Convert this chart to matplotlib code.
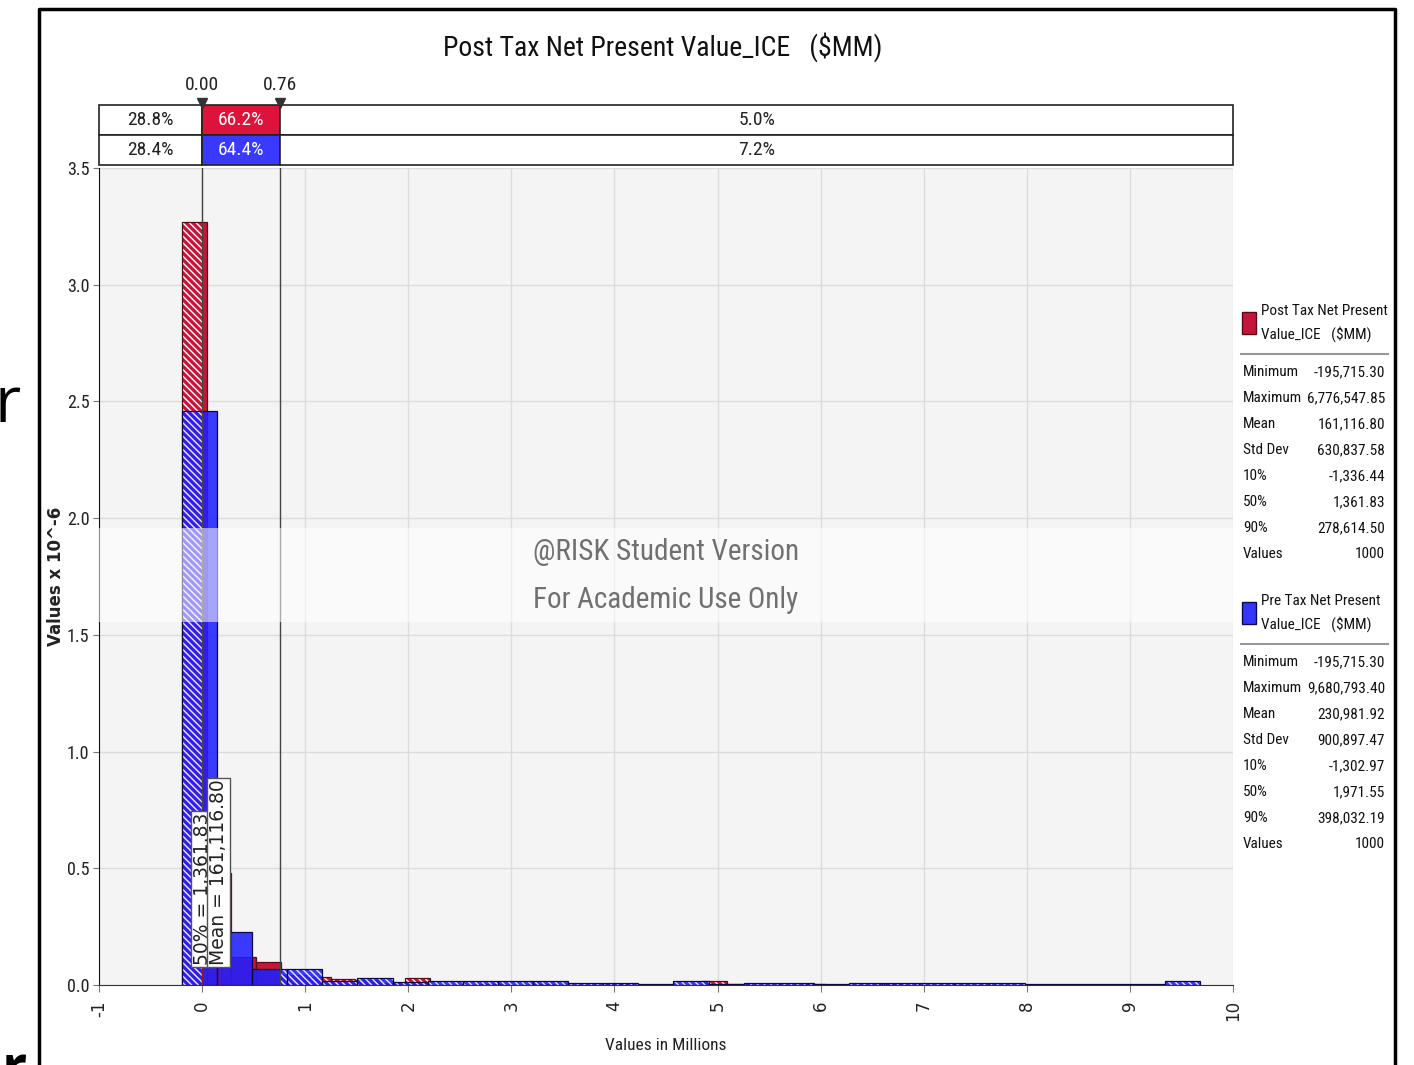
import numpy as np
import matplotlib.pyplot as plt
from matplotlib.patches import Rectangle
from matplotlib.lines import Line2D

W, H = 1414, 1065

# values in millions, densities in units of 1e-6
post_min, post_max = -0.1957153, 6.77654785
pre_min, pre_max = -0.1957153, 9.6807934
post_heights = [3.27, 0.48, 0.12, 0.10, 0.042, 0.033, 0.026, 0.02, 0.008, 0.029,
                0.0, 0.0, 0.004, 0.0, 0.004, 0.0, 0.0, 0.004, 0.0, 0.0,
                0.0, 0.015, 0.004, 0.0, 0.0, 0.004, 0.0, 0.0, 0.004]
pre_heights = [2.46, 0.227, 0.069, 0.069, 0.017, 0.029, 0.013, 0.016, 0.016, 0.016,
               0.016, 0.01, 0.01, 0.005, 0.018, 0.006, 0.01, 0.01, 0.005, 0.01,
               0.01, 0.01, 0.01, 0.01, 0.004, 0.004, 0.004, 0.004, 0.015]
lower_delim, upper_delim = 0.00, 0.76
post_split = [28.8, 66.2, 5.0]
pre_split = [28.4, 64.4, 7.2]
post_mean = 0.1611168
post_p50 = 0.00136183
stat_names = ['Minimum', 'Maximum', 'Mean', 'Std Dev', '10%', '50%', '90%', 'Values']
post_stats = ['-195,715.30', '6,776,547.85', '161,116.80', '630,837.58',
              '-1,336.44', '1,361.83', '278,614.50', '1000']
pre_stats = ['-195,715.30', '9,680,793.40', '230,981.92', '900,897.47',
             '-1,302.97', '1,971.55', '398,032.19', '1000']
x_ticks = list(range(-1, 11))
y_ticks = [0.0, 0.5, 1.0, 1.5, 2.0, 2.5, 3.0, 3.5]

RED = '#c4163a'
BLUE = '#2020ff'
NARROW = ['Roboto Condensed', 'Liberation Sans Narrow', 'Liberation Sans']

plt.rcParams['hatch.linewidth'] = 1.0

fig = plt.figure(figsize=(W / 100, H / 100), dpi=100)


def fx(x):
    return x / W


def fy(y):
    return 1 - y / H


def draw_hist(ax, lo_val, hi_val, heights, color, edge, alpha, z):
    edges = np.linspace(lo_val, hi_val, len(heights) + 1)
    for lo, hi, h in zip(edges[:-1], edges[1:], heights):
        if h <= 0:
            continue
        parts = [(lo, min(hi, lower_delim), True),
                 (max(lo, lower_delim), min(hi, upper_delim), False),
                 (max(lo, upper_delim), hi, True)]
        for a, b, hatched in parts:
            if b <= a:
                continue
            if hatched:
                ax.bar(a, h, width=b - a, align='edge', color=color, edgecolor='white',
                       linewidth=0, hatch='\\' * 5, alpha=alpha, zorder=z)
            else:
                ax.bar(a, h, width=b - a, align='edge', color=color, linewidth=0,
                       alpha=alpha, zorder=z)
        ax.bar(lo, h, width=hi - lo, align='edge', fill=False, edgecolor=edge,
               linewidth=0.9, zorder=z + 0.1)


# main plot
ax = fig.add_axes([fx(99), fy(985), fx(1233 - 99), (985 - 168) / H])
ax.set_facecolor('#f4f4f4')
ax.set_xlim(-1, 10)
ax.set_ylim(0, 3.5)
ax.set_xticks(x_ticks)
ax.set_yticks(y_ticks)
ax.set_xticklabels([str(t) for t in x_ticks], rotation=90, fontsize=12, color='#222')
ax.set_yticklabels([f'{t:.1f}' for t in y_ticks], fontsize=13, family=NARROW, color='#222')
ax.tick_params(axis='x', length=5, color='#777', pad=6)
ax.tick_params(axis='y', length=4, color='#777', pad=3)
ax.grid(True, color='#dcdcdc', lw=1)
ax.set_axisbelow(True)
for s in ['top', 'right']:
    ax.spines[s].set_visible(False)
ax.spines['left'].set_color('#111')
ax.spines['bottom'].set_color('#333')

draw_hist(ax, post_min, post_max, post_heights, RED, '#5a0a1a', 1.0, 2)
draw_hist(ax, pre_min, pre_max, pre_heights, BLUE, '#0a0a40', 0.88, 3)

ax.axvline(lower_delim, color='#444', lw=1, zorder=4)
ax.axvline(upper_delim, color='#444', lw=1, zorder=4)

# watermark
ax.axhspan(1.555, 1.958, color='white', alpha=0.55, lw=0, zorder=5)
ax.text(0.5, 1.855, '@RISK Student Version', transform=ax.get_yaxis_transform(),
        ha='center', va='center', fontsize=21, color='#707070', family=NARROW, zorder=6)
ax.text(0.5, 1.65, 'For Academic Use Only', transform=ax.get_yaxis_transform(),
        ha='center', va='center', fontsize=21, color='#707070', family=NARROW, zorder=6)

# mean / median markers
for val, lab in [(post_p50, '50% = 1,361.83'), (post_mean, 'Mean = 161,116.80')]:
    ax.plot([val, val], [0, 0.085], color='#8b1a2b', lw=1, zorder=7)
    ax.text(val, 0.085, lab, rotation=90, ha='center', va='bottom', fontsize=13.5,
            color='#222', zorder=8,
            bbox=dict(boxstyle='square,pad=0.1', fc='white', ec='#555', lw=1))

ax.set_xlabel('Values in Millions', fontsize=12.5, family=NARROW, color='#222', labelpad=12)
ax.set_ylabel('Values x 10^-6', fontsize=12, fontweight='bold', color='#222')
ax.yaxis.set_label_coords((65 - 99) / (1233 - 99), 0.5)

# delimiter band
band = fig.add_axes([fx(99), fy(165), fx(1233 - 99), 60 / H])
band.set_xlim(-1, 10)
band.set_ylim(0, 2)
band.axis('off')
cells = [(-1, lower_delim), (lower_delim, upper_delim), (upper_delim, 10)]
for row, (pcts, col) in enumerate([(post_split, '#dc143c'), (pre_split, '#3a3aff')]):
    y0 = 1 - row
    for i, ((a, b), p) in enumerate(zip(cells, pcts)):
        mid = i == 1
        band.add_patch(Rectangle((a, y0), b - a, 1, facecolor=col if mid else 'white',
                                 edgecolor='#222', lw=1.2, clip_on=False))
        band.text((a + b) / 2, y0 + 0.5, f'{p:.1f}%', ha='center', va='center',
                  fontsize=14, family=NARROW, color='white' if mid else '#222')
band.plot([lower_delim, upper_delim], [2.08, 2.08], 'v', color='#333', ms=7, clip_on=False)
for v in [lower_delim, upper_delim]:
    band.text(v, 2.65, f'{v:.2f}', ha='center', va='center', fontsize=14, family=NARROW,
              color='#222')

# title
fig.text(fx(663), fy(47), 'Post Tax Net Present Value_ICE   ($MM)', ha='center', va='center',
         fontsize=20, family=NARROW, color='#111')

# stats panel
blocks = [(RED, '#5a0a1a', 'Post Tax Net Present', post_stats, 300),
          ('#3535fb', '#0a0a50', 'Pre Tax Net Present', pre_stats, 590)]
for col, edge, name, stats, top in blocks:
    fig.patches.append(Rectangle((fx(1242), fy(top + 34)), fx(14), 22 / H, facecolor=col,
                                 edgecolor=edge, lw=1, transform=fig.transFigure))
    fig.text(fx(1261), fy(top + 11), name, ha='left', va='center', fontsize=11,
             family=NARROW, color='#111')
    fig.text(fx(1261), fy(top + 34), 'Value_ICE   ($MM)', ha='left', va='center',
             fontsize=11, family=NARROW, color='#111')
    fig.lines.append(Line2D([fx(1241), fx(1388)], [fy(top + 54), fy(top + 54)],
                            color='#999', lw=1.5, transform=fig.transFigure))
    for k, (n, s) in enumerate(zip(stat_names, stats)):
        yy = fy(top + 72 + 26 * k)
        fig.text(fx(1243), yy, n, ha='left', va='center', fontsize=11, family=NARROW,
                 color='#111')
        fig.text(fx(1385), yy, s, ha='right', va='center', fontsize=11, family=NARROW,
                 color='#111')

# outer frame
fig.lines.append(Line2D([fx(39), fx(39), fx(1395), fx(1395)], [0, fy(9), fy(9), 0],
                        color='black', lw=2.5, transform=fig.transFigure))
fig.text(fx(-5), fy(405), 'r', ha='left', va='center', fontsize=46, color='black',
         family=['Open Sans', 'DejaVu Sans'])
fig.text(fx(2), fy(1043), 'r', ha='left', va='top', fontsize=40, fontweight='bold',
         color='black', family=['Open Sans', 'DejaVu Sans'])

fig.savefig('out.png', dpi=100, facecolor='white')
